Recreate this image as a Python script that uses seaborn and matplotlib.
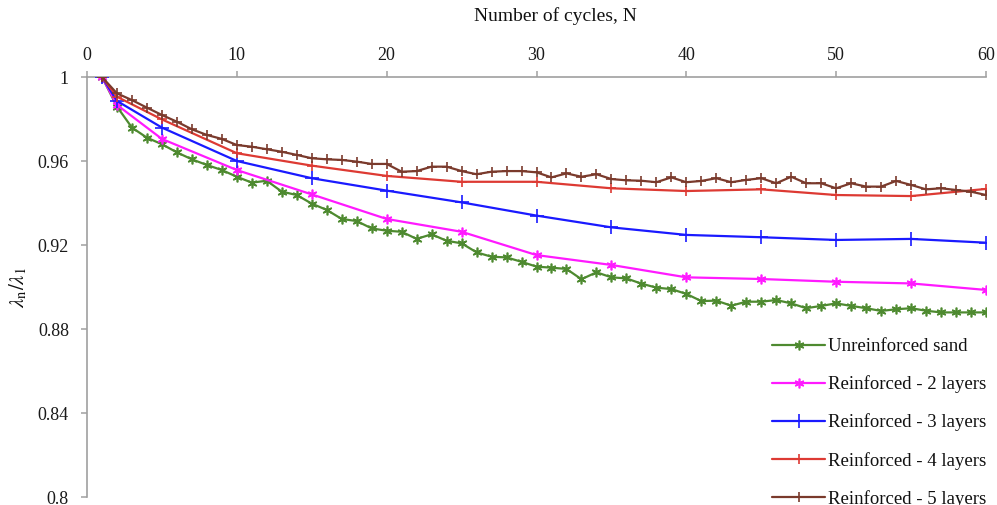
import numpy as np
import pandas as pd
import matplotlib
matplotlib.use("Agg")
import matplotlib.pyplot as plt
import seaborn as sns

# ---------------- data ----------------
cycles_all = list(range(1, 61))
cycles_sparse = [1, 2, 5, 10, 15, 20, 25, 30, 35, 40, 45, 50, 55, 60]

unreinforced = [1.0, 0.9859, 0.9759, 0.9711, 0.9680, 0.9641, 0.9608, 0.9581, 0.9557, 0.9525,
                0.9497, 0.9506, 0.9454, 0.9438, 0.9397, 0.9367, 0.9324, 0.9314, 0.9279, 0.9268,
                0.9263, 0.9229, 0.9251, 0.9220, 0.9208, 0.9165, 0.9144, 0.9141, 0.9120, 0.9097,
                0.9092, 0.9086, 0.9037, 0.9070, 0.9046, 0.9041, 0.9016, 0.8997, 0.8990, 0.8967,
                0.8933, 0.8935, 0.8911, 0.8930, 0.8930, 0.8938, 0.8922, 0.8899, 0.8910, 0.8922,
                0.8910, 0.8899, 0.8886, 0.8894, 0.8899, 0.8887, 0.8879, 0.8879, 0.8879, 0.8879]

layers2 = [1.0, 0.9867, 0.9705, 0.9557, 0.9441, 0.9324, 0.9263, 0.9152, 0.9105, 0.9046,
           0.9038, 0.9025, 0.9017, 0.8986]
layers3 = [1.0, 0.9886, 0.9759, 0.9600, 0.9518, 0.9459, 0.9403, 0.9340, 0.9284, 0.9248,
           0.9237, 0.9224, 0.9229, 0.9211]
layers4 = [1.0, 0.9906, 0.9798, 0.9637, 0.9578, 0.9529, 0.9501, 0.9501, 0.9470, 0.9457,
           0.9465, 0.9438, 0.9433, 0.9467]
layers5 = [1.0, 0.9922, 0.9890, 0.9854, 0.9819, 0.9787, 0.9751, 0.9724, 0.9705, 0.9676,
           0.9668, 0.9656, 0.9644, 0.9629, 0.9613, 0.9608, 0.9605, 0.9597, 0.9586, 0.9586,
           0.9549, 0.9552, 0.9573, 0.9573, 0.9552, 0.9537, 0.9549, 0.9552, 0.9552, 0.9546,
           0.9522, 0.9541, 0.9525, 0.9537, 0.9514, 0.9508, 0.9506, 0.9499, 0.9522, 0.9499,
           0.9505, 0.9518, 0.9499, 0.9510, 0.9518, 0.9494, 0.9525, 0.9494, 0.9494, 0.9470,
           0.9494, 0.9478, 0.9478, 0.9505, 0.9486, 0.9465, 0.9470, 0.9462, 0.9454, 0.9438]

labels = ["Unreinforced sand", "Reinforced - 2 layers", "Reinforced - 3 layers",
          "Reinforced - 4 layers", "Reinforced - 5 layers"]

x_ticks = [0, 10, 20, 30, 40, 50, 60]
y_ticks = [0.8, 0.84, 0.88, 0.92, 0.96, 1.0]
y_tick_labels = ["0.8", "0.84", "0.88", "0.92", "0.96", "1"]

# ---------------- style ----------------
sns.set_style("white")
plt.rcParams["font.family"] = ["Liberation Serif", "DejaVu Serif"]
plt.rcParams["mathtext.fontset"] = "stix"

fig = plt.figure(figsize=(9.97, 5.05), dpi=100)
ax = fig.add_axes([87 / 997, 1 - 497 / 505, (986 - 87) / 997, (497 - 77) / 505])

series = [
    (cycles_all, unreinforced, "#4e8a30", (6, 2, 0), 7, labels[0]),
    (cycles_sparse, layers2, "#ff1aff", (6, 2, 0), 7, labels[1]),
    (cycles_sparse, layers3, "#1a1aff", "+", 10, labels[2]),
    (cycles_sparse, layers4, "#dd3a33", "+", 7, labels[3]),
    (cycles_all, layers5, "#7a3a2c", "+", 7, labels[4]),
]

for xs, ys, col, mk, ms, lab in series:
    df = pd.DataFrame({"N": xs, "ratio": ys})
    sns.lineplot(data=df, x="N", y="ratio", ax=ax, color=col, marker=mk,
                 markersize=ms, markeredgecolor=col, markeredgewidth=1.2,
                 linewidth=1.6, label=lab, zorder=3)

ax.set_xlim(0, 60)
ax.set_ylim(0.8, 1.0)
ax.xaxis.tick_top()
ax.xaxis.set_label_position("top")
ax.set_xticks(x_ticks)
ax.set_xticklabels([str(t) for t in x_ticks])
ax.set_yticks(y_ticks)
ax.set_yticklabels(y_tick_labels)

for side in ["bottom", "right"]:
    ax.spines[side].set_visible(False)
for side in ["top", "left"]:
    ax.spines[side].set_color("#a0a0a0")
    ax.spines[side].set_linewidth(1.2)

ax.tick_params(axis="both", which="major", direction="out", length=4, width=1.1,
               color="#a0a0a0", labelsize=13, labelcolor="#1a1a1a")
ax.tick_params(axis="x", pad=5, top=True, bottom=False)
ax.tick_params(axis="y", pad=9, left=True)

ax.set_xlabel("Number of cycles, N", fontsize=14, color="#111111")
ax.set_ylabel(r"$\lambda_{\mathrm{n}}/\lambda_{1}$", fontsize=15, labelpad=6, color="#111111")
ax.xaxis.label.set_va("bottom")
ax.xaxis.set_label_coords(555 / 997, 1 - 25 / 505, transform=fig.transFigure)

leg = ax.legend(loc="upper left", bbox_to_anchor=(772 / 997, 1 - 338 / 505),
                bbox_transform=fig.transFigure, frameon=False, fontsize=13.5,
                handlelength=2.85, handletextpad=0.12, labelspacing=1.08,
                borderpad=0, borderaxespad=0, numpoints=1)
for t in leg.get_texts():
    t.set_color("#111111")

fig.savefig("out.png", dpi=100)
